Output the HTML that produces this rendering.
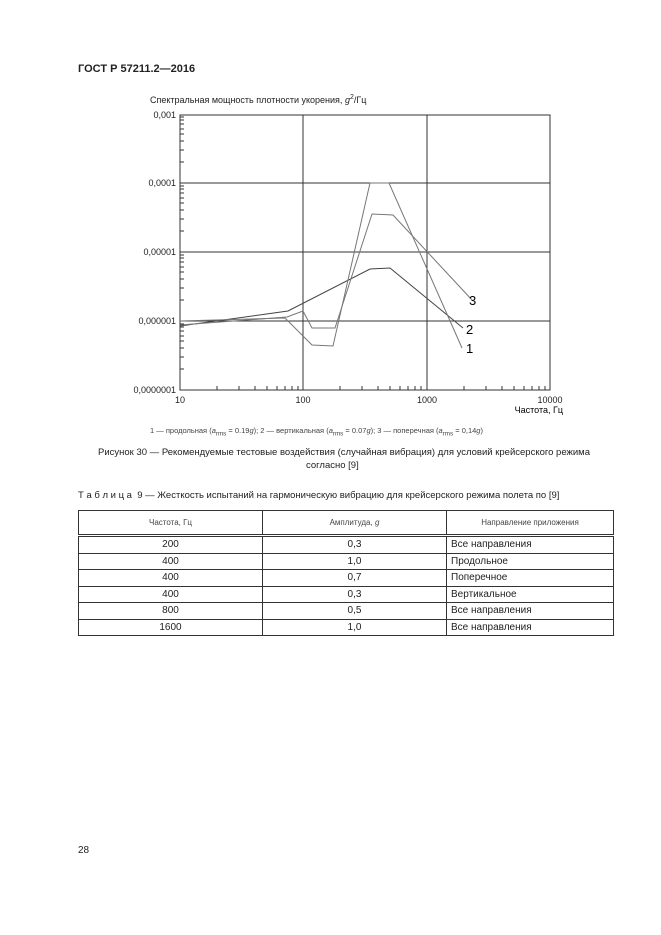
<!DOCTYPE html>
<html><head><meta charset="utf-8"><style>
body{margin:0;background:#fff;font-family:"Liberation Sans",sans-serif;color:#222}
.p{position:relative;width:661px;height:935px;overflow:hidden}
.t{position:absolute;white-space:nowrap}
table{position:absolute;left:78px;top:510px;width:536px;border-collapse:collapse;font-size:10px}
td{border:1px solid #333;height:15.5px;padding:0 4px;line-height:15px}
thead td{height:23px;font-size:8px;text-align:center;color:#444;border-bottom:3px double #333}
</style></head><body><div class="p">
<div class="t" style="left:78px;top:63px;font-size:11px;font-weight:bold">ГОСТ Р 57211.2—2016</div>
<div class="t" style="left:150px;top:94px;font-size:9px">Спектральная мощность плотности укорения, <i>g</i><sup style="font-size:7px">2</sup>/Гц</div>
<svg class="t" style="left:0;top:0" width="661" height="470">
<g stroke="#333" stroke-width="1" fill="none">
<rect x="180" y="115" width="370" height="275"/>
<line x1="303" y1="115" x2="303" y2="390"/><line x1="427" y1="115" x2="427" y2="390"/>
<line x1="180" y1="183" x2="550" y2="183"/><line x1="180" y1="252" x2="550" y2="252"/><line x1="180" y1="321" x2="550" y2="321"/>
<path d="M180,326L288,311L370,269L390,268L463,328" stroke="#444"/>
<path d="M180,325L287,317L303,311L312,328L335,328L372,214L393,215L472,300" stroke="#777"/>
<path d="M180,321L285,318L303,336L312,345L333,346L370,183L389,183L462,348" stroke="#777"/>
<path stroke="#333" d="M217,390v-4M239,390v-4M255,390v-4M267,390v-4M277,390v-4M285,390v-4M292,390v-4M298,390v-4M340,390v-4M362,390v-4M378,390v-4M390,390v-4M400,390v-4M408,390v-4M415,390v-4M421,390v-4M464,390v-4M486,390v-4M502,390v-4M514,390v-4M524,390v-4M532,390v-4M539,390v-4M545,390v-4"/>
<path stroke="#333" d="M180,369h4M180,357h4M180,348h4M180,341h4M180,336h4M180,331h4M180,327h4M180,324h4M180,300h4M180,288h4M180,279h4M180,272h4M180,267h4M180,262h4M180,258h4M180,255h4M180,231h4M180,219h4M180,210h4M180,203h4M180,198h4M180,193h4M180,189h4M180,186h4M180,162h4M180,150h4M180,141h4M180,134h4M180,129h4M180,124h4M180,120h4M180,117h4"/>
</g>
<g font-size="9" fill="#222" text-anchor="end">
<text x="176" y="118">0,001</text><text x="176" y="186">0,0001</text><text x="176" y="255">0,00001</text><text x="176" y="324">0,000001</text><text x="176" y="393">0,0000001</text>
</g>
<g font-size="9" fill="#222" text-anchor="middle">
<text x="180" y="403">10</text><text x="303" y="403">100</text><text x="427" y="403">1000</text><text x="550" y="403">10000</text>
</g>
<text x="563" y="413" font-size="9" text-anchor="end">Частота, Гц</text>
<g font-size="13"><text x="469" y="305">3</text><text x="466" y="334">2</text><text x="466" y="353">1</text></g>
</svg>
<div class="t" style="left:150px;top:426px;font-size:7.5px;color:#444">1 — продольная (<i>a</i><sub>rms</sub> = 0.19<i>g</i>); 2 — вертикальная (<i>a</i><sub>rms</sub> = 0.07<i>g</i>); 3 — поперечная (<i>a</i><sub>rms</sub> = 0,14<i>g</i>)</div>
<div class="t" style="left:98px;top:447px;font-size:9.5px">Рисунок 30 — Рекомендуемые тестовые воздействия (случайная вибрация) для условий крейсерского режима</div>
<div class="t" style="left:306px;top:460px;font-size:9.5px">согласно [9]</div>
<div class="t" style="left:78px;top:490px;font-size:9.5px">Т а б л и ц а&nbsp; 9 — Жесткость испытаний на гармоническую вибрацию для крейсерского режима полета по [9]</div>
<table>
<thead><tr><td style="width:175px">Частота, Гц</td><td style="width:175px">Амплитуда, <i>g</i></td><td>Направление приложения</td></tr></thead>
<tr><td align="center">200</td><td align="center">0,3</td><td>Все направления</td></tr>
<tr><td align="center">400</td><td align="center">1,0</td><td>Продольное</td></tr>
<tr><td align="center">400</td><td align="center">0,7</td><td>Поперечное</td></tr>
<tr><td align="center">400</td><td align="center">0,3</td><td>Вертикальное</td></tr>
<tr><td align="center">800</td><td align="center">0,5</td><td>Все направления</td></tr>
<tr><td align="center">1600</td><td align="center">1,0</td><td>Все направления</td></tr>
</table>
<div class="t" style="left:78px;top:845px;font-size:10px">28</div>
</div></body></html>
